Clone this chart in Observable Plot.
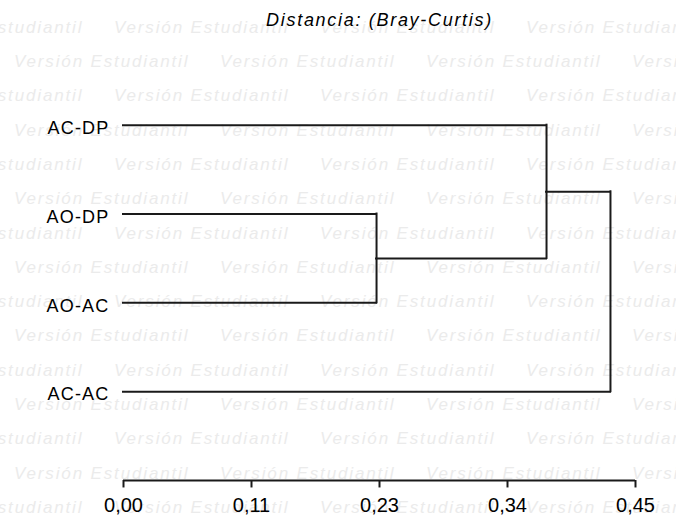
<!DOCTYPE html>
<html><head><meta charset="utf-8">
<script src="https://cdn.jsdelivr.net/npm/d3@7"></script>
<script src="https://cdn.jsdelivr.net/npm/@observablehq/plot@0.6"></script>
<style>body{margin:0;background:#fff}</style>
</head><body><div id="chart"></div>
<script>
// ---- data ----
const leaves = ["AC-DP", "AO-DP", "AO-AC", "AC-AC"];
const mergeNames = ["C1", "C2", "C3"];
const mergeA = ["AO-DP", "C1", "C2"];
const mergeB = ["AO-AC", "AC-DP", "AC-AC"];
const mergeHeights = [0.2224, 0.3718, 0.4280];
const tickValues = [0, 0.1125, 0.225, 0.3375, 0.45];
const tickLabels = ["0,00", "0,11", "0,23", "0,34", "0,45"];
const title = "Distancia: (Bray-Curtis)";
const watermark = "Versión Estudiantil";

// ---- build dendrogram segments ----
const nodes = new Map();
leaves.forEach((name, i) => nodes.set(name, {x: 0, y: i}));
const hSegs = [], vSegs = [];
mergeNames.forEach((name, i) => {
  const a = nodes.get(mergeA[i]), b = nodes.get(mergeB[i]);
  const h = mergeHeights[i];
  hSegs.push({x1: a.x, x2: h, y: a.y}, {x1: b.x, x2: h, y: b.y});
  vSegs.push({x: h, y1: Math.min(a.y, b.y), y2: Math.max(a.y, b.y)});
  nodes.set(name, {x: h, y: (a.y + b.y) / 2});
});

const ink = "#1a1a1a";
const font = "'Liberation Sans', Arial, sans-serif";

const plot = Plot.plot({
  width: 676, height: 523,
  marginLeft: 123, marginRight: 41, marginTop: 0, marginBottom: 0,
  x: {domain: [0, 0.45], axis: null},
  y: {domain: [0, 4], range: [124.7, 480], axis: null},
  style: {background: "transparent", fontFamily: font, overflow: "visible"},
  marks: [
    Plot.ruleY(hSegs, {x1: "x1", x2: "x2", y: "y", stroke: ink, strokeWidth: 2, strokeLinecap: "square"}),
    Plot.ruleX(vSegs, {x: "x", y1: "y1", y2: "y2", stroke: ink, strokeWidth: 2, strokeLinecap: "square"}),
    Plot.text(leaves, {x: 0, y: (d, i) => i, text: d => d, textAnchor: "end", dx: -14, dy: 3,
      fontSize: 18, fill: "#000"}),
    Plot.ruleY([4], {x1: 0, x2: 0.45, stroke: ink, strokeWidth: 2}),
    Plot.ruleX(tickValues, {x: d => d, y1: 4, y2: 4.084, stroke: ink, strokeWidth: 2}),
    Plot.text(tickValues, {x: d => d, y: 4.288, text: (d, i) => tickLabels[i], fontSize: 20, fill: "#000"}),
    Plot.text([title], {x: 0.225, y: -1.18, text: d => d, fontSize: 18, fontStyle: "italic", fill: "#000"})
  ]
});

const svg = d3.select(plot);
svg.selectAll("text").filter(function() { return leaves.includes(this.textContent); })
  .style("letter-spacing", "1.2px");
svg.selectAll("text").filter(function() { return this.textContent === title; })
  .style("letter-spacing", "1.7px");

// decorative watermark behind everything
const wm = svg.insert("g", ":first-child")
  .attr("font-family", font).attr("font-style", "italic").attr("font-size", 17)
  .attr("text-anchor", "start").attr("font-weight", "normal")
  .attr("fill", "#ebebeb").style("letter-spacing", "1.85px");
for (let k = 0; k < 15; k++) {
  const cy = 26.7 + 34.3 * k;
  let x = k % 2 === 0 ? -92 : 14;
  for (; x < 676; x += 206) {
    wm.append("text").attr("x", x).attr("y", cy + 6).text(watermark);
  }
}

document.getElementById("chart").appendChild(plot);
</script>
</body></html>
